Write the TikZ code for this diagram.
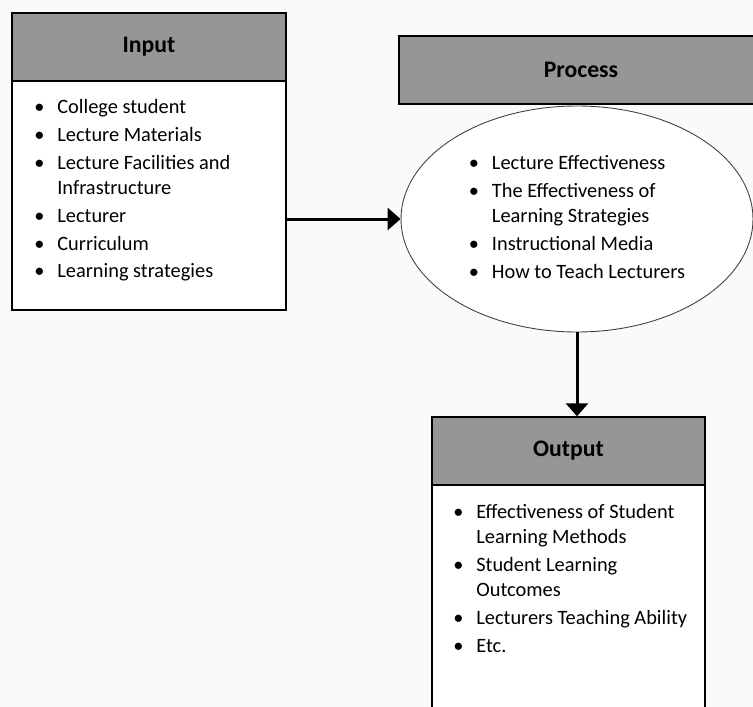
\documentclass[tikz,border=0pt]{standalone}
\usepackage{fontspec}
\setmainfont{Carlito}
\usetikzlibrary{positioning,arrows.meta,shapes.geometric}
\definecolor{headgray}{RGB}{150,150,150}
\definecolor{pagegray}{RGB}{250,250,250}
\newcommand{\bodyfont}{\fontsize{11.6}{14.2}\selectfont}
\newcommand{\headfont}{\fontsize{13.5}{16}\selectfont\bfseries}
\tikzset{
    header/.style = {
        draw,
        shape=rectangle,
        minimum height=1.36cm,
        minimum width=5.48cm,
        line width=0.8pt,
        fill=headgray,
        font=\headfont
    },
    panel/.style = {
        draw,
        shape=rectangle,
        minimum width=5.48cm,
        line width=0.8pt,
        fill=white
    },
    bubble/.style = {
        draw=black!75,
        shape=ellipse,
        minimum width=7.04cm,
        minimum height=4.52cm,
        line width=0.5pt,
        fill=white,
        inner sep=0pt,
        font=\bodyfont
    },
    bullets/.style = {
        inner sep=0pt,
        anchor=north west,
        font=\bodyfont
    },
    >={Triangle[length=0.26cm,width=0.44cm]},
}

\begin{document}
\begin{tikzpicture}

            \useasboundingbox (0,0) rectangle (15.06,-14.14);
            \clip (0,0) rectangle (15.06,-14.14);
            \fill[pagegray] (0,0) rectangle (15.06,-14.14);

            \node[header] (inhead) at (2.98,-0.94) {Input};
            \node[panel, minimum height=4.58cm] (inbody) at (2.98,-3.91) {};
            \node[bullets] (inlist) at (0.68,-1.91) {%
                \begin{tabular}{@{}p{0.46cm}@{}l@{}}
                \textbullet & College student \\[1.7pt]
                \textbullet & Lecture Materials \\[1.7pt]
                \textbullet & Lecture Facilities and \\
                            & Infrastructure \\[1.7pt]
                \textbullet & Lecturer \\[1.7pt]
                \textbullet & Curriculum \\[1.7pt]
                \textbullet & Learning strategies
                \end{tabular}};

            \node[header, minimum width=7.28cm] (prochead) at (11.62,-1.40) {Process};
            \node[bubble] (procell) at (11.54,-4.38) {%
                \begin{tabular}{@{}p{0.46cm}@{}l@{}}
                \textbullet & Lecture Effectiveness \\[1.7pt]
                \textbullet & The Effectiveness of \\
                            & Learning Strategies \\[1.7pt]
                \textbullet & Instructional Media \\[1.7pt]
                \textbullet & How to Teach Lecturers
                \end{tabular}};

            \node[header, minimum width=5.46cm] (outhead) at (11.37,-9.02) {Output};
            \node[panel, minimum width=5.46cm, minimum height=5.5cm] (outbody) at (11.37,-12.45) {};
            \node[bullets] (outlist) at (9.06,-10.01) {%
                \begin{tabular}{@{}p{0.46cm}@{}l@{}}
                \textbullet & Effectiveness of Student \\
                            & Learning Methods \\[1.7pt]
                \textbullet & Student Learning \\
                            & Outcomes \\[1.7pt]
                \textbullet & Lecturers Teaching Ability \\[1.7pt]
                \textbullet & Etc.
                \end{tabular}};

            \path[draw, ->, line width=0.06cm] (inbody.east |- procell.west) -- (procell.west);
            \path[draw, ->, line width=0.06cm] (procell.south) -- (procell.south |- outhead.north);

        \end{tikzpicture}
\end{document}
